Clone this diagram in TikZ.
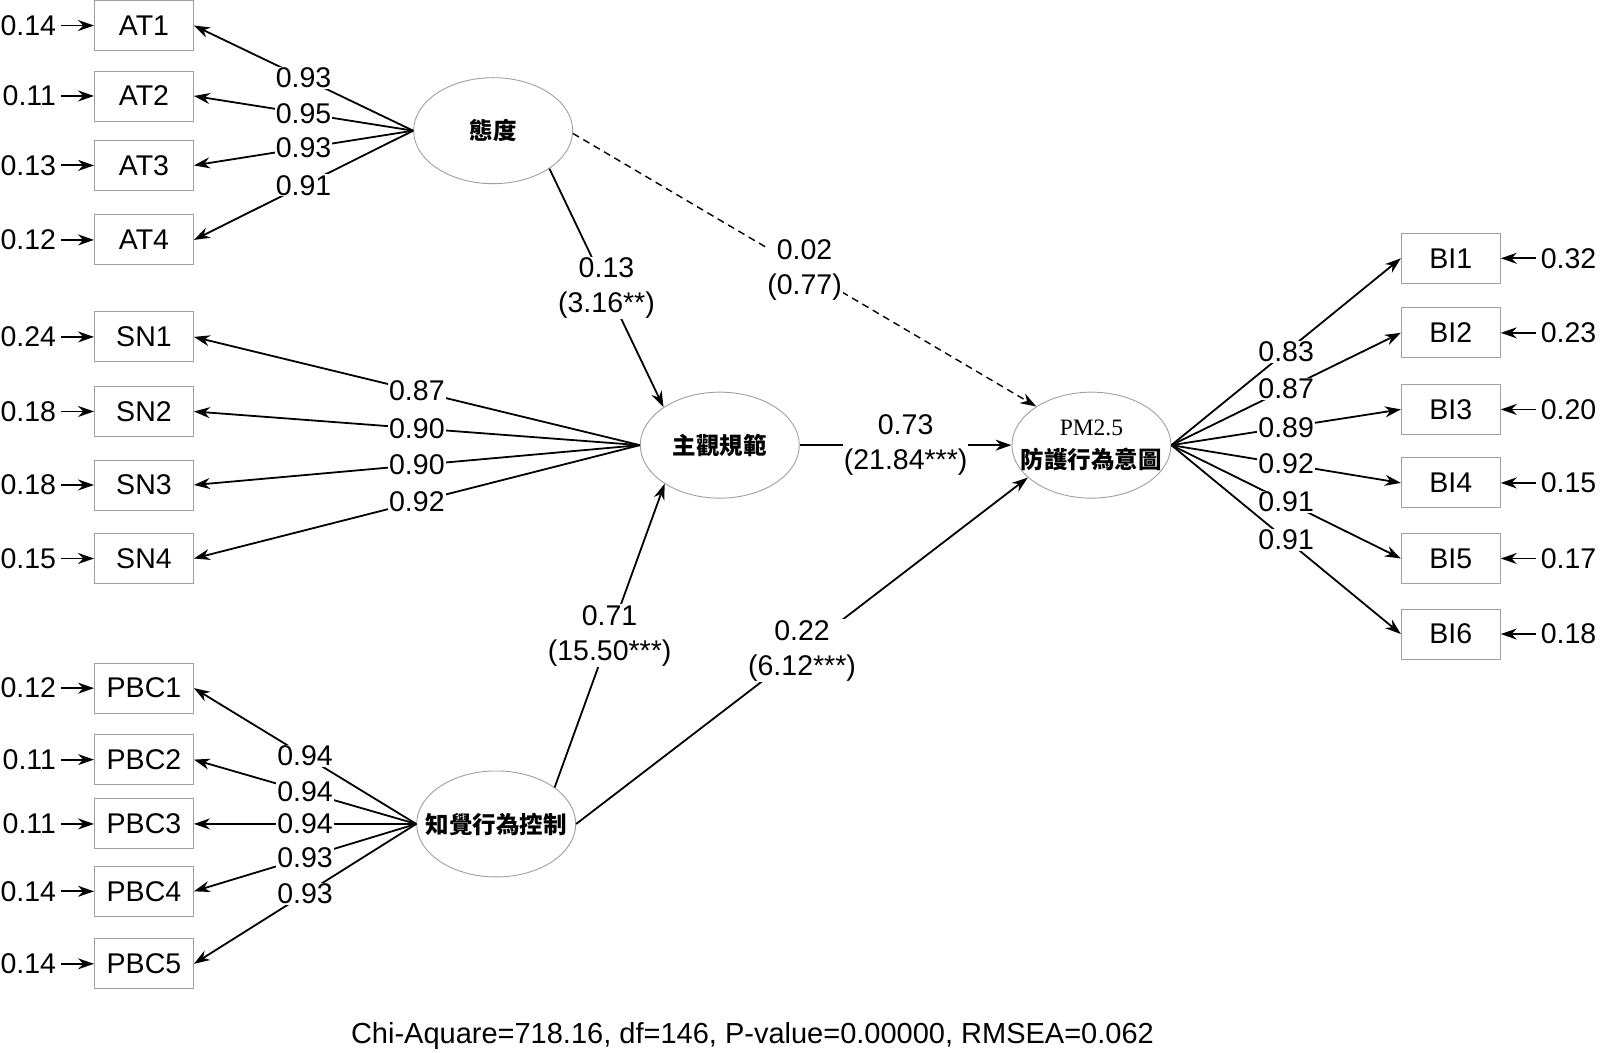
\documentclass[tikz,border=0pt]{standalone}
\usepackage{fontspec}
\setmainfont{Liberation Sans}
\newfontfamily\cjk{Noto Sans CJK TC}
\newfontfamily\romanf{Liberation Serif}
\usetikzlibrary{arrows.meta,shapes.geometric}
\tikzset{
  obs/.style={draw=gray!75, line width=0.9pt, minimum width=99pt, minimum height=50pt, inner sep=0pt, font=\fontsize{28.5}{30}\selectfont},
  lat/.style={ellipse, draw=gray!75, line width=0.9pt, minimum width=159pt, minimum height=106pt, inner sep=0pt, font=\cjk\bfseries\fontsize{23.5}{33}\selectfont, align=center},
  err/.style={font=\fontsize{28.5}{30}\selectfont, inner sep=5pt},
  arr/.style={-{Stealth[length=16pt,width=11pt]}, line width=1.8pt},
  lbl/.style={fill=white, inner sep=1pt, font=\fontsize{28.5}{35}\selectfont, align=center},
  dsh/.style={dash pattern=on 7pt off 5pt}
}
\begin{document}
\begin{tikzpicture}[x=1.021pt,y=-1.021pt]
\useasboundingbox[fill=white] (0,0) rectangle (1567.1,1030.4);
% observed boxes
\foreach \n/\y in {AT1/25,AT2/94,AT3/162,AT4/235,SN1/330,SN2/403,SN3/475,SN4/547,PBC1/674,PBC2/744,PBC3/807,PBC4/873,PBC5/944}
  \node[obs] (\n) at (141,\y) {\n};
\foreach \n/\y in {BI1/253,BI2/326,BI3/401,BI4/473,BI5/547,BI6/621}
  \node[obs] (\n) at (1421,\y) {\n};
% error terms
\foreach \n/\v in {AT1/0.14,AT2/0.11,AT3/0.13,AT4/0.12,SN1/0.24,SN2/0.18,SN3/0.18,SN4/0.15,PBC1/0.12,PBC2/0.11,PBC3/0.11,PBC4/0.14,PBC5/0.14}{
  \node[err, anchor=east] (e\n) at (60,0 |- \n.west) {\v};
  \draw[arr] (e\n.east) -- (\n.west);
}
\foreach \n/\v in {BI1/0.32,BI2/0.23,BI3/0.20,BI4/0.15,BI5/0.17,BI6/0.18}{
  \node[err, anchor=west] (e\n) at (1504,0 |- \n.east) {\v};
  \draw[arr] (e\n.west) -- (\n.east);
}
% latent variables
\node[lat] (att) at (483,128) {\makebox[0pt]{態度}};
\node[lat] (sn) at (705,436) {\makebox[0pt]{主觀規範}};
\node[lat] (pbc) at (486,807) {\makebox[0pt]{知覺行為控制}};
\node[lat] (pm) at (1069,436) {\makebox[0pt]{\romanf\mdseries PM2.5}\\\makebox[0pt]{防護行為意圖}};
% loadings
\foreach \n/\v in {AT1/0.93,AT2/0.95,AT3/0.93,AT4/0.91}
  \draw[arr] (att.west) -- node[lbl]{\v} (\n.east);
\foreach \n/\v in {SN1/0.87,SN2/0.90,SN3/0.90,SN4/0.92}
  \draw[arr] (sn.west) -- node[lbl]{\v} (\n.east);
\foreach \n/\v in {PBC1/0.94,PBC2/0.94,PBC3/0.94,PBC4/0.93,PBC5/0.93}
  \draw[arr] (pbc.west) -- node[lbl]{\v} (\n.east);
\foreach \n/\v in {BI1/0.83,BI2/0.87,BI3/0.89,BI4/0.92,BI5/0.91,BI6/0.91}
  \draw[arr] (pm.east) -- node[lbl]{\v} (\n.west);
% structural paths
\draw[arr] (att.-34) -- node[lbl]{0.13\\(3.16**)} (sn.146);
\draw[arr, dsh, line width=1.4pt] (att.-2) -- node[lbl]{0.02\\(0.77)} (pm.145);
\draw[arr] (sn.east) -- node[lbl]{0.73\\(21.84***)} (pm.west);
\draw[arr] (pbc.32) -- node[lbl]{0.71\\(15.50***)} (sn.-145);
\draw[arr] (pbc.east) -- node[lbl]{0.22\\(6.12***)} (pm.-153);
% fit statistics
\node[font=\fontsize{29}{32}\selectfont] (fit) at (737,1015) {Chi-Aquare=718.16, df=146, P-value=0.00000, RMSEA=0.062};
\end{tikzpicture}
\end{document}
